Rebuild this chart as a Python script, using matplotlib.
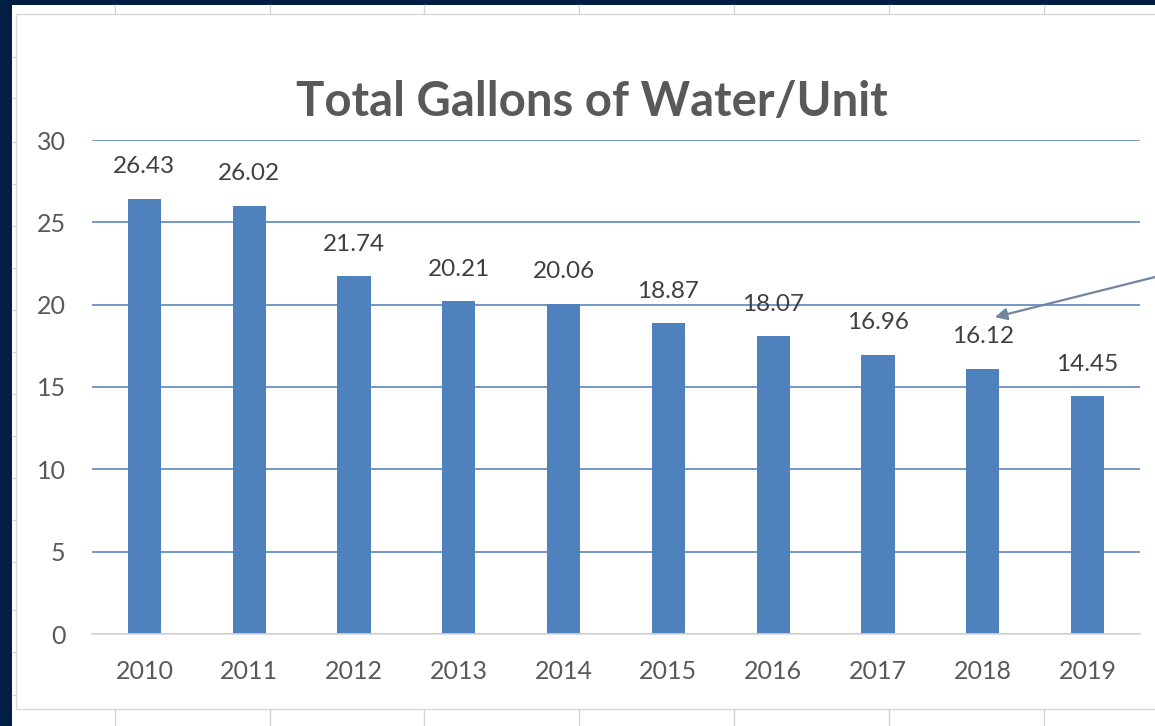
import matplotlib
matplotlib.use("Agg")
import matplotlib.pyplot as plt
from matplotlib.patches import Rectangle

years = ["2010", "2011", "2012", "2013", "2014", "2015", "2016", "2017", "2018", "2019"]
gallons = [26.43, 26.02, 21.74, 20.21, 20.06, 18.87, 18.07, 16.96, 16.12, 14.45]
yticks = [0, 5, 10, 15, 20, 25, 30]

plt.rcParams["font.family"] = ["Lato", "DejaVu Sans"]

W, H = 1155, 726
fig = plt.figure(figsize=(W / 100, H / 100), dpi=100, facecolor="#021E45")

# spreadsheet behind the chart
bg = fig.add_axes([0, 0, 1, 1], zorder=0)
bg.set_xlim(0, W)
bg.set_ylim(H, 0)
bg.axis("off")
bg.add_patch(Rectangle((12, 5), W, H, facecolor="white", edgecolor="none"))
for x in [115, 270, 424, 579, 734, 889, 1044]:
    bg.plot([x, x], [5, 14], color="#d4d4d4", lw=1)
    bg.plot([x, x], [709, H], color="#d4d4d4", lw=1)
for y in [57, 98, 142, 184, 226, 268, 310, 352, 394, 436, 478, 520, 562, 610, 652, 695]:
    bg.plot([12, 15], [y, y], color="#d4d4d4", lw=1)
bg.add_patch(Rectangle((15.5, 13.5), W, 695, facecolor="white", edgecolor="#d9d9d9", lw=1))

# chart
ax = fig.add_axes([92 / W, 1 - 634 / H, (1140 - 92) / W, (634 - 140) / H], zorder=1)
ax.patch.set_alpha(0)
x = range(len(years))
ax.bar(x, gallons, width=0.315, color="#4F81BD", zorder=2)
ax.set_xlim(-0.5, len(years) - 0.5)
ax.set_ylim(0, 30)
ax.set_yticks(yticks)
ax.set_xticks(list(x))
ax.set_xticklabels(years)
ax.grid(axis="y", color="#5A86BF", lw=1.2, zorder=1)
ax.set_axisbelow(True)
for s in ["top", "right", "left"]:
    ax.spines[s].set_visible(False)
ax.spines["bottom"].set_color("#d9d9d9")
ax.spines["bottom"].set_linewidth(1.2)
ax.tick_params(length=0, labelsize=18, colors="#595959")
ax.tick_params(axis="y", pad=19)
ax.tick_params(axis="x", pad=19)

for i, v in enumerate(gallons):
    ax.annotate(f"{v:.2f}", (i, v), xytext=(0, 23), textcoords="offset points",
                ha="center", va="center", fontsize=17.5, color="#404040")

fig.text(592 / W, 1 - 102 / H, "Total Gallons of Water/Unit", ha="center", va="center",
         fontsize=34, fontweight="bold", color="#595959")

ax.annotate("", xy=(8.09, 19.2), xytext=(9.72, 21.8),
            arrowprops=dict(arrowstyle="-|>", color="#71869E", lw=1.6, mutation_scale=18),
            annotation_clip=False)

fig.savefig("out.png", dpi=100, facecolor=fig.get_facecolor())
